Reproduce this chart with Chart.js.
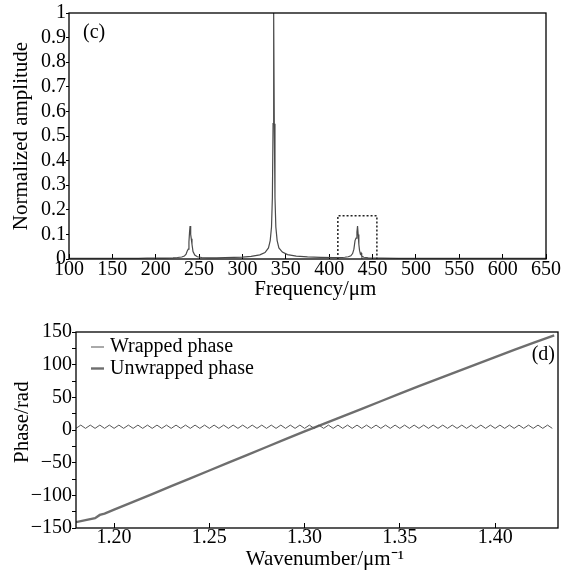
<!DOCTYPE html>
<html>
<head>
<meta charset="utf-8">
<script src="https://cdn.jsdelivr.net/npm/chart.js@4.4.1/dist/chart.umd.min.js"></script>
<style>
body{margin:0;background:#fff;}
#wrap{position:relative;width:565px;height:570px;}
canvas{position:absolute;left:0;}
#c1{top:0;}
#c2{top:305px;}
</style>
</head>
<body>
<div id="wrap">
<canvas id="c1" width="565" height="305"></canvas>
<canvas id="c2" width="565" height="265"></canvas>
</div>
<script>
// (c) spectrum
const freq = [100,110,120,130,140,150,160,170,180,190,200,210,220,225,230,233,235,236.5,237.5,238.3,239,239.6,240.3,241,241.8,243,245,248,253,260,270,280,290,300,310,320,326,330,332,333.5,334.5,335.3,336,336.7,337.5,338.5,340,342,346,352,362,375,390,405,415,418,422,425,427,428.5,429.8,431,432,432.7,433.4,434.2,435,436,436.8,437.5,440,445,460,480,500,520,540,560,580,600,620,640,650];
const amp = [0.003,0.003,0.003,0.003,0.003,0.003,0.003,0.003,0.003,0.004,0.004,0.004,0.005,0.006,0.008,0.012,0.02,0.034,0.04,0.07,0.11,0.134,0.1,0.082,0.06,0.03,0.016,0.009,0.006,0.005,0.005,0.006,0.007,0.008,0.011,0.017,0.026,0.045,0.075,0.13,0.25,0.55,1.0,0.55,0.25,0.13,0.075,0.045,0.028,0.018,0.012,0.009,0.007,0.006,0.006,0.007,0.009,0.013,0.022,0.04,0.075,0.085,0.11,0.134,0.1,0.06,0.035,0.02,0.024,0.012,0.007,0.005,0.004,0.003,0.003,0.003,0.003,0.003,0.003,0.003,0.003,0.003,0.003];
const boxFreq = [410,410,455,455];
const boxAmp = [0,0.176,0.176,0];

// (d) phase
const wrapK = [1.1800,1.1825,1.1850,1.1875,1.1900,1.1925,1.1950,1.1975,1.2000,1.2025,
1.2050,1.2075,1.2100,1.2125,1.2150,1.2175,1.2200,1.2225,1.2250,1.2275,
1.2300,1.2325,1.2350,1.2375,1.2400,1.2425,1.2450,1.2475,1.2500,1.2525,
1.2550,1.2575,1.2600,1.2625,1.2650,1.2675,1.2700,1.2725,1.2750,1.2775,
1.2800,1.2825,1.2850,1.2875,1.2900,1.2925,1.2950,1.2975,1.3000,1.3025,
1.3050,1.3075,1.3100,1.3125,1.3150,1.3175,1.3200,1.3225,1.3250,1.3275,
1.3300,1.3325,1.3350,1.3375,1.3400,1.3425,1.3450,1.3475,1.3500,1.3525,
1.3550,1.3575,1.3600,1.3625,1.3650,1.3675,1.3700,1.3725,1.3750,1.3775,
1.3800,1.3825,1.3850,1.3875,1.3900,1.3925,1.3950,1.3975,1.4000,1.4025,
1.4050,1.4075,1.4100,1.4125,1.4150,1.4175,1.4200,1.4225,1.4250,1.4275,
1.4300];
const wrapPhase = [2.5,7.5,2.5,7.5,2.5,7.5,2.5,7.5,2.5,7.5,
2.5,7.5,2.5,7.5,2.5,7.5,2.5,7.5,2.5,7.5,
2.5,7.5,2.5,7.5,2.5,7.5,2.5,7.5,2.5,7.5,
2.5,7.5,2.5,7.5,2.5,7.5,2.5,7.5,2.5,7.5,
2.5,7.5,2.5,7.5,2.5,7.5,2.5,7.5,2.5,7.5,
2.5,7.5,2.5,7.5,2.5,7.5,2.5,7.5,2.5,7.5,
2.5,7.5,2.5,7.5,2.5,7.5,2.5,7.5,2.5,7.5,
2.5,7.5,2.5,7.5,2.5,7.5,2.5,7.5,2.5,7.5,
2.5,7.5,2.5,7.5,2.5,7.5,2.5,7.5,2.5,7.5,
2.5,7.5,2.5,7.5,2.5,7.5,2.5,7.5,2.5,7.5,
2.5];
const unwrapK = [1.180,1.185,1.190,1.1925,1.195,1.200,1.210,1.220,1.230,1.240,1.250,1.260,1.270,1.280,1.290,1.300,1.310,1.320,1.330,1.340,1.350,1.360,1.370,1.380,1.390,1.400,1.410,1.420,1.431];
const unwrapPhase = [-141,-138,-135,-130,-128,-122,-110,-98,-86,-74,-62,-50,-38,-26,-14,-2,9.5,21,32.5,44,55.5,67,78.3,89.5,100.5,111.5,122.5,133.5,145];
const waveTicks = [1.20,1.25,1.30,1.35,1.40];

const serif = "'Liberation Serif', 'Times New Roman', serif";
Chart.defaults.font.family = serif;
Chart.defaults.color = '#000';

const pts = (xs, ys) => xs.map((x, i) => ({x: x, y: ys[i]}));

const frame = {
  id: 'frame',
  afterDraw(chart) {
    const {ctx, chartArea: a} = chart;
    ctx.save();
    ctx.strokeStyle = '#000';
    ctx.lineWidth = 1.3;
    ctx.strokeRect(a.left, a.top, a.right - a.left, a.bottom - a.top);
    ctx.restore();
  }
};

const tickFont = {size: 20};
const titleFont = {size: 21, lineHeight: 1};

// top chart
new Chart(document.getElementById('c1'), {
  type: 'line',
  data: {
    datasets: [
      {data: pts(freq, amp), borderColor: '#4a4a4a', borderWidth: 1.2, pointRadius: 0, tension: 0},
      {data: pts(boxFreq, boxAmp), borderColor: '#222', borderWidth: 1.5, borderDash: [2, 2], pointRadius: 0, tension: 0}
    ]
  },
  options: {
    responsive: false,
    animation: false,
    layout: {padding: {left: 0, top: 13, right: 17, bottom: 0}},
    plugins: {legend: {display: false}, tooltip: {enabled: false}},
    scales: {
      x: {
        type: 'linear', min: 100, max: 650,
        border: {display: false},
        grid: {drawOnChartArea: false, tickLength: -5, color: '#000'},
        ticks: {stepSize: 50, padding: 4, font: tickFont, maxRotation: 0, autoSkip: false},
        title: {display: true, text: '   Frequency/\u03bcm', font: titleFont, padding: {top: 0, bottom: 5}},
        afterFit: s => { s.height = 46; }
      },
      y: {
        min: 0, max: 1,
        border: {display: false},
        grid: {drawOnChartArea: false, tickLength: 3, color: '#000'},
        ticks: {stepSize: 0.1, padding: 0, font: tickFont, autoSkip: false,
          callback: v => (Math.abs(v) < 1e-9 ? '0' : Math.abs(v - 1) < 1e-9 ? '1' : v.toFixed(1))},
        title: {display: true, text: 'Normalized amplitude', font: titleFont, padding: {top: 11, bottom: 0}},
        afterFit: s => { s.width = 69; }
      }
    }
  },
  plugins: [frame, {
    id: 'tagc',
    afterDraw(chart) {
      const {ctx, chartArea: a} = chart;
      ctx.save();
      ctx.font = '20px ' + serif;
      ctx.fillStyle = '#000';
      ctx.textBaseline = 'middle';
      ctx.fillText('(c)', a.left + 14, a.top + 20);
      ctx.restore();
    }
  }]
});

// bottom chart
new Chart(document.getElementById('c2'), {
  type: 'line',
  data: {
    datasets: [
      {label: 'Wrapped phase', data: pts(wrapK, wrapPhase), borderColor: '#555', borderWidth: 1, pointRadius: 0, tension: 0},
      {label: 'Unwrapped phase', data: pts(unwrapK, unwrapPhase), borderColor: '#6e6e6e', borderWidth: 2.4, pointRadius: 0, tension: 0}
    ]
  },
  options: {
    responsive: false,
    animation: false,
    layout: {padding: {left: 0, top: 27, right: 7, bottom: 0}},
    plugins: {legend: {display: false}, tooltip: {enabled: false}},
    scales: {
      x: {
        type: 'linear', min: 1.18, max: 1.433,
        border: {display: false},
        grid: {drawOnChartArea: false, tickLength: -5, color: '#000'},
        afterBuildTicks: s => { s.ticks = waveTicks.map(v => ({value: v})); },
        ticks: {padding: 3, font: tickFont, maxRotation: 0, autoSkip: false, callback: v => v.toFixed(2)},
        title: {display: true, text: '   Wavenumber/\u03bcm\u207b\u00b9', font: titleFont, padding: {top: 0, bottom: 0}},
        afterFit: s => { s.height = 42; }
      },
      y: {
        min: -150, max: 150,
        border: {display: false},
        grid: {drawOnChartArea: false, tickLength: 4, color: '#000'},
        ticks: {stepSize: 25, padding: 0, font: tickFont, autoSkip: false,
          callback: v => (v % 50 === 0 ? (v < 0 ? '\u2212' + Math.abs(v) : String(v)) : '')},
        title: {display: true, text: '   Phase/rad', font: titleFont, padding: {top: 12, bottom: 0}},
        afterFit: s => { s.width = 76; }
      }
    }
  },
  plugins: [frame, {
    id: 'legendIn',
    afterDraw(chart) {
      const {ctx, chartArea: a} = chart;
      ctx.save();
      ctx.font = '20px ' + serif;
      ctx.fillStyle = '#000';
      ctx.textBaseline = 'middle';
      chart.data.datasets.forEach((ds, i) => {
        const y = a.top + 15 + i * 21.5;
        ctx.strokeStyle = ds.borderColor;
        ctx.lineWidth = ds.borderWidth;
        ctx.beginPath();
        ctx.moveTo(a.left + 15, y);
        ctx.lineTo(a.left + 28, y);
        ctx.stroke();
        ctx.fillText(ds.label, a.left + 34, y);
      });
      ctx.textAlign = 'right';
      ctx.fillText('(d)', a.right - 3, a.top + 23);
      ctx.restore();
    }
  }]
});
</script>
</body>
</html>
